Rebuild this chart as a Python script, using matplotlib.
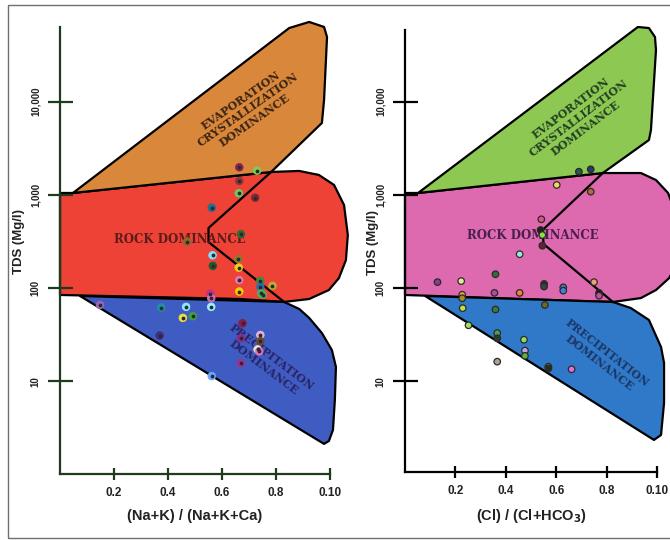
import matplotlib
matplotlib.use("Agg")
import matplotlib.pyplot as plt
from matplotlib.patches import Polygon, Rectangle
from matplotlib.ticker import FixedLocator, NullLocator

# ---------------------------------------------------------------------------
# Sample data
# ---------------------------------------------------------------------------
# Cation diagram: (Na+K)/(Na+K+Ca) vs TDS (mg/l)
cation_ratio = [0.664, 0.730, 0.664, 0.662, 0.723, 0.562, 0.670, 0.471, 0.565,
                0.661, 0.566, 0.662, 0.664, 0.742, 0.787, 0.742, 0.664, 0.745,
                0.751, 0.557, 0.560, 0.148, 0.375, 0.467, 0.560, 0.455, 0.492,
                0.676, 0.369, 0.670, 0.742, 0.742, 0.732, 0.738, 0.670, 0.562]
cation_tds = [1973, 1815, 1406, 1040, 931, 728, 380, 315, 225,
              205, 173, 166, 122, 120, 106, 104, 92, 88,
              85, 87, 78, 66, 62, 63, 63, 48, 50,
              42, 31, 29, 31.5, 27, 22, 21, 15.7, 11.4]
cation_colors = ["#8b2252", "#7ccd5a", "#8b3a3a", "#66cc66", "#7a2a3a", "#1f6f8f",
                 "#2e6b2e", "#8b6b2a", "#7fdfff", "#8b7a2a", "#1e5a2e", "#f0d020",
                 "#e07ab0", "#3c8c3c", "#b8b030", "#2e6fab", "#f5d000", "#3cb371",
                 "#4caf50", "#c03090", "#d070c0", "#9a6ab0", "#2090a0", "#8fe8ff",
                 "#a0f0ff", "#f0e040", "#40a040", "#8b1a4a", "#40307a", "#8a2a8a",
                 "#e8b0e0", "#6b4a2a", "#f0e8d0", "#e070c0", "#a03090", "#6fa8ff"]

# Anion diagram: Cl/(Cl+HCO3) vs TDS (mg/l)
anion_ratio = [0.690, 0.737, 0.602, 0.737, 0.541, 0.538, 0.545, 0.545, 0.455,
               0.359, 0.129, 0.223, 0.750, 0.552, 0.552, 0.628, 0.628, 0.770,
               0.770, 0.355, 0.455, 0.227, 0.227, 0.229, 0.359, 0.555, 0.252,
               0.366, 0.366, 0.472, 0.476, 0.476, 0.366, 0.569, 0.569, 0.661]
anion_tds = [1770, 1878, 1276, 1082, 547, 420, 371, 285, 231,
             141, 116, 119, 116, 111, 104, 102, 94, 89,
             83, 89, 89, 85, 78, 61, 59, 66, 40,
             33, 29, 28, 21.4, 18.8, 16.3, 14.4, 13.8, 13.5]
anion_colors = ["#2a5a4a", "#2a3a6a", "#f0d860", "#b06a3a", "#e05080", "#202020",
                "#90e040", "#6a2030", "#9fe8e0", "#3a6a3a", "#8a3a9a", "#e8e890",
                "#f0a070", "#303040", "#404040", "#5070d0", "#4080e0", "#1a1a1a",
                "#c050a0", "#b04aa0", "#f08040", "#f0a040", "#a09020", "#c0e040",
                "#3a7a3a", "#6a6a20", "#a0e060", "#50a050", "#2a3a2a", "#90e060",
                "#c0a0f0", "#60b040", "#b0a090", "#50a050", "#203020", "#e070e0"]

# ---------------------------------------------------------------------------
# Gibbs field outlines (ratio, TDS)
# ---------------------------------------------------------------------------
cat_evap_x = [0.048, 0.849, 0.923, 0.978, 0.989, 0.978, 0.970, 0.782]
cat_evap_y = [1047, 61400, 71300, 63000, 49200, 10400, 5890, 1758]

cat_rock_x = [0.0, 0.048, 0.782, 0.886, 0.959, 1.015, 1.052, 1.066, 1.059,
              1.033, 0.996, 0.923, 0.830, 0.664, 0.332, 0.0]
cat_rock_y = [1047, 1047, 1758, 1803, 1633, 1276, 778, 371, 200,
              128, 95.5, 76.5, 71.1, 76.5, 80.4, 84.5]

cat_prec_x = [0.074, 0.830, 0.886, 0.923, 0.970, 1.007, 1.022, 1.018, 1.011,
              0.996, 0.978]
cat_prec_y = [82.4, 71.1, 59.8, 47.9, 33.0, 21.7, 14.3, 6.33, 3.02, 2.30, 2.14]

cat_mid_x = [0.782, 0.550, 0.550, 0.830]
cat_mid_y = [1758, 441, 312, 71.1]

an_evap_x = [0.052, 0.924, 0.968, 0.992, 0.996, 0.976, 0.968, 0.785]
an_evap_y = [1047, 63000, 61400, 49200, 35700, 4960, 3870, 1714]

an_rock_x = [0.0, 0.052, 0.785, 0.936, 0.996, 1.044, 1.076, 1.088, 1.076,
             1.048, 0.996, 0.936, 0.825, 0.458, 0.0]
an_rock_y = [1047, 1047, 1714, 1714, 1442, 1047, 608, 290, 177,
             128, 95.5, 78.3, 71.1, 76.5, 84.5]

an_prec_x = [0.080, 0.825, 0.896, 0.968, 1.016, 1.028, 1.028, 1.016, 0.988]
an_prec_y = [82.4, 71.1, 61.2, 45.6, 23.4, 15.8, 5.88, 2.67, 2.36]

an_mid_x = [0.785, 0.546, 0.550, 0.825]
an_mid_y = [1714, 420, 297, 71.1]

x_ticks = [0.2, 0.4, 0.6, 0.8, 1.0]
x_tick_labels = ["0.2", "0.4", "0.6", "0.8", "0.10"]
y_ticks = [10, 100, 1000, 10000]
y_tick_labels = ["10", "100", "1,000", "10,000"]

SANS = ["Liberation Sans", "DejaVu Sans"]
SERIF = ["DejaVu Serif"]

fig = plt.figure(figsize=(6.7, 5.4), dpi=100)
fig.patch.set_facecolor("white")

# thin frame around the whole figure
fig.add_artist(Rectangle((8 / 670, 2 / 540), 1.0, 1 - 7 / 540,
                         transform=fig.transFigure, fill=False,
                         edgecolor="#707070", lw=1.0))


def setup_axes(ax, axis_color, ylim, xlabel, ylabel_x):
    ax.set_yscale("log")
    ax.set_xlim(0, 1)
    ax.set_ylim(*ylim)
    ax.set_facecolor("none")
    for s in ("top", "right"):
        ax.spines[s].set_visible(False)
    for s in ("left", "bottom"):
        ax.spines[s].set_color(axis_color)
        ax.spines[s].set_linewidth(1.6)
    ax.xaxis.set_major_locator(FixedLocator(x_ticks))
    ax.set_xticklabels(x_tick_labels)
    ax.yaxis.set_major_locator(FixedLocator(y_ticks))
    ax.yaxis.set_minor_locator(NullLocator())
    ax.set_yticklabels(y_tick_labels)
    ax.tick_params(axis="y", direction="inout", length=18, width=1.6,
                   color=axis_color, pad=5, labelsize=7, labelcolor="#222222")
    ax.tick_params(axis="x", direction="inout", length=9, width=1.6,
                   color=axis_color, pad=5, labelsize=8.5, labelcolor="#222222")
    for lab in ax.get_yticklabels():
        lab.set_rotation(90)
        lab.set_va("center")
        lab.set_fontfamily(SANS)
        lab.set_fontweight("bold")
    for lab in ax.get_xticklabels():
        lab.set_fontfamily(SANS)
        lab.set_fontweight("bold")
    ax.set_xlabel(xlabel, fontsize=10.5, fontweight="bold", family=SANS,
                  color="#222222", labelpad=7)
    ax.set_ylabel("TDS (Mg/l)", fontsize=9.5, fontweight="bold", family=SANS,
                  color="#222222")
    ax.yaxis.set_label_coords(ylabel_x, 0.52)


def draw_fields(ax, evap, rock, prec, mid, colors):
    kw = dict(edgecolor="black", lw=1.6, joinstyle="round", clip_on=False)
    ax.add_patch(Polygon(list(zip(*rock)), closed=True, facecolor=colors[1],
                         zorder=1, **kw))
    ax.add_patch(Polygon(list(zip(*evap)), closed=True, facecolor=colors[0],
                         zorder=1.2, **kw))
    ax.add_patch(Polygon(list(zip(*prec)), closed=True, facecolor=colors[2],
                         zorder=1.1, **kw))
    ax.plot(mid[0], mid[1], color="black", lw=1.6, zorder=2,
            solid_joinstyle="round", clip_on=False)


def field_labels(ax, spec):
    for (txt, x, y, rot, col, size) in spec:
        ax.text(x, y, txt, rotation=rot, rotation_mode="anchor", ha="center",
                va="center", multialignment="center", fontsize=size,
                fontweight="bold", family=SERIF, color=col, linespacing=1.15,
                zorder=3)


# ---------------- left: cation diagram ----------------
ax1 = fig.add_axes([60 / 670, 1 - 474 / 540, 270 / 670, 447 / 540])
setup_axes(ax1, "#1e3b1e", (1.018, 62950), "(Na+K) / (Na+K+Ca)", -0.13)
draw_fields(ax1, (cat_evap_x, cat_evap_y), (cat_rock_x, cat_rock_y),
            (cat_prec_x, cat_prec_y), (cat_mid_x, cat_mid_y),
            ("#d9873a", "#ee4236", "#3f5cc2"))
field_labels(ax1, [
    ("EVAPORATION\nCRYSTALLIZATION\nDOMINANCE", 0.694, 8100, 35, "#3a2414", 8),
    ("ROCK DOMINANCE", 0.443, 336, 0, "#5a1c1c", 8.5),
    ("PRECIPITATION\nDOMINANCE", 0.768, 16.1, -37, "#2a2466", 8),
])
ax1.scatter(cation_ratio, cation_tds, s=30, c=cation_colors,
            edgecolors=cation_colors, linewidths=0.6, zorder=4)
ax1.scatter(cation_ratio, cation_tds, s=3, c="#2a2a2a", zorder=5)

# ---------------- right: anion diagram ----------------
ax2 = fig.add_axes([405 / 670, 1 - 472 / 540, 252 / 670, 442 / 540])
setup_axes(ax2, "black", (1.07, 58480), r"(Cl) / (Cl+HCO$_{\mathbf{3}}$)", -0.105)
draw_fields(ax2, (an_evap_x, an_evap_y), (an_rock_x, an_rock_y),
            (an_prec_x, an_prec_y), (an_mid_x, an_mid_y),
            ("#8cc852", "#dd6aae", "#2f79c8"))
field_labels(ax2, [
    ("EVAPORATION\nCRYSTALLIZATION\nDOMINANCE", 0.689, 6640, 37, "#244024", 8),
    ("ROCK DOMINANCE", 0.506, 371, 0, "#4a1f50", 8.5),
    ("PRECIPITATION\nDOMINANCE", 0.785, 17.8, -38, "#1c3766", 8),
])
ax2.scatter(anion_ratio, anion_tds, s=22, c=anion_colors,
            edgecolors="#2a2a2a", linewidths=0.9, zorder=4)

fig.savefig("out.png", dpi=100, facecolor="white")
